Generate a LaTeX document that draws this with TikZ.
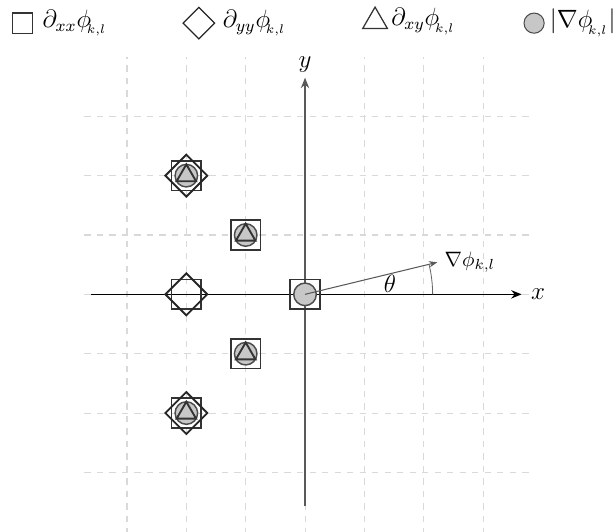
\documentclass[tikz,border=0pt]{standalone}
\usepackage{amsmath,amssymb}
\usepackage{tikz}
\usetikzlibrary{arrows.meta}
\usetikzlibrary{shapes.geometric,positioning}
\newcommand{\phikl}{\phi_{_{\kern-2pt k,l}}}
\tikzset{
    gridline/.style={
        gray!30,
        line width=0.5pt,
        dash pattern=on 3pt off 3pt
    },
    % 标记样式
    sqmark/.style={
        draw=black!80, line width=0.9pt,
        rectangle, inner sep=0pt, minimum size=0.5cm
    },
    dmmark/.style={
        draw=black!85, line width=0.9pt,
        diamond, inner sep=0pt, minimum size=0.72cm
    },
    cimark/.style={
        draw=black!70, fill=black!22, line width=0.7pt,
        circle, inner sep=0pt, minimum size=0.38cm
    },
    trmark/.style={
        draw=black!80, line width=0.9pt,
        regular polygon, regular polygon sides=3,
        inner sep=0pt, minimum size=0.38cm
    },
    axisarrow/.style={
        line width=0.7pt,
        -{Stealth[length=5pt, width=4pt]}
    }
}

\begin{document}
\begin{tikzpicture}
    \useasboundingbox (-5.14,-4.0) rectangle (5.24,4.96);

    % grid
    \foreach \y in {-3,...,3} \draw[gridline] (-3.72,\y) -- (3.86,\y);
    \foreach \x in {-3,...,3} \draw[gridline] (\x,-4.05) -- (\x,4.0);

    % axes
    \coordinate (xs) at (-3.6,0);
    \coordinate (xe) at (3.65,0);
    \coordinate (ys) at (0,-3.57);
    \coordinate (ye) at (0,3.65);
    \draw[axisarrow, black] (xs) -- (xe);
    \draw[axisarrow, black!65] (ys) -- (ye);
    \node[right=1pt of xe] (xlab) {\large$x$};
    \node[above=-1pt of ye] (ylab) {\large$y$};

    % markers
    \node[sqmark] (sq1) at (0,0) {};
    \node[cimark] (ci1) at (0,0) {};

    \node[sqmark] (sq2) at (-2,2) {};
    \node[dmmark] (dm2) at (-2,2) {};
    \node[cimark] (ci2) at (-2,2) {};
    \node[trmark] (tr2) at (-2,2) {};

    \node[sqmark] (sq3) at (-1,1) {};
    \node[cimark] (ci3) at (-1,1) {};
    \node[trmark] (tr3) at (-1,1) {};

    \node[sqmark] (sq4) at (-2,0) {};
    \node[dmmark] (dm4) at (-2,0) {};

    \node[sqmark] (sq5) at (-1,-1) {};
    \node[cimark] (ci5) at (-1,-1) {};
    \node[trmark] (tr5) at (-1,-1) {};

    \node[sqmark] (sq6) at (-2,-2) {};
    \node[dmmark] (dm6) at (-2,-2) {};
    \node[cimark] (ci6) at (-2,-2) {};
    \node[trmark] (tr6) at (-2,-2) {};

    % gradient
    \coordinate (grad) at (2.23,0.54);
    \draw[black!65, line width=0.5pt, -{Stealth[length=4pt, width=3pt]}] (ci1.center) -- (grad);
    \node[right=0pt of grad] (gradlab) {$\nabla\phi_{k,l}$};
    \draw[black!60, line width=0.4pt] (2.15,0) arc[start angle=0, end angle=13.6, radius=2.15];
    \node (thlab) at (1.43,0.17) {\large$\theta$};

    % legend
    \node[sqmark, minimum size=0.34cm, line width=0.6pt] (lgsq) at (-4.76,4.57) {};
    \node[right=1pt of lgsq] (lgsqt) {\large$\partial_{xx}\phikl$};
    \node[dmmark, minimum size=0.54cm, line width=0.6pt] (lgdm) at (-1.79,4.57) {};
    \node[right=0pt of lgdm] (lgdmt) {\large$\partial_{yy}\phikl$};
    \node[trmark, minimum size=0.48cm, line width=0.6pt] (lgtr) at (1.18,4.6) {};
    \node[right=0pt of lgtr] (lgtrt) {\large$\partial_{xy}\phikl$};
    \node[cimark, minimum size=0.34cm, line width=0.5pt] (lgci) at (3.86,4.57) {};
    \node[right=-1pt of lgci] (lgcit) {\large$|\nabla\phikl|$};
\end{tikzpicture}
\end{document}
